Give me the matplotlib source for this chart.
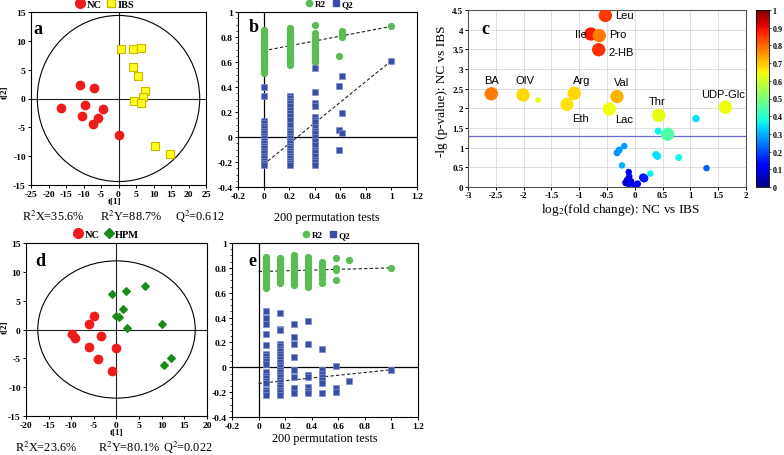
import numpy as np
import matplotlib
matplotlib.use('Agg')
import matplotlib.pyplot as plt
from matplotlib.patches import Ellipse
from matplotlib.lines import Line2D
from matplotlib.cm import ScalarMappable
from matplotlib.colors import Normalize

# ---------------- data ----------------
# panel a: PLS-DA scores NC vs IBS
a_nc_t1 = [-11.0, -7.0, -16.5, -9.5, -4.5, -10.3, -6.0, -7.2, 0.1]
a_nc_t2 = [2.4, 1.9, -1.6, -1.1, -1.9, -3.1, -3.4, -4.4, -6.4]
a_ibs_t1 = [0.8, 4.0, 6.3, 4.0, 5.6, 7.5, 7.0, 4.5, 6.5, 10.5, 14.8]
a_ibs_t2 = [8.5, 8.6, 8.7, 5.4, 3.9, 1.3, 0.3, -0.5, -0.8, -8.3, -9.7]
a_ellipse = [23.2, 14.4]   # half axes of Hotelling ellipse

# panel d: PLS-DA scores NC vs HPM
d_nc_t1 = [-5.0, -6.0, -9.9, -9.2, -3.5, -6.0, -0.2, -4.0, -1.0]
d_nc_t2 = [2.4, 0.9, -0.7, -1.5, -1.1, -3.1, -3.2, -5.1, -7.2]
d_hpm_t1 = [6.3, 2.0, -1.0, 1.4, -0.2, 0.6, 2.4, 10.0, 12.0, 10.4]
d_hpm_t2 = [7.5, 6.6, 6.2, 3.6, 2.3, 2.1, 0.3, 1.0, -5.0, -6.2]
d_ellipse = [17.4, 11.9]

# panel b: permutation test (IBS)
b_r2_cols = {
    0.005: [0.86, 0.84, 0.82, 0.80, 0.79, 0.78, 0.77, 0.76, 0.75, 0.74, 0.73, 0.72, 0.71,
            0.70, 0.69, 0.68, 0.67, 0.66, 0.65, 0.64, 0.63, 0.62, 0.61, 0.60, 0.58, 0.57,
            0.55, 0.53, 0.51],
    0.207: [0.87, 0.86, 0.85, 0.84, 0.83, 0.82, 0.81, 0.80, 0.79, 0.78, 0.77, 0.76, 0.75,
            0.74, 0.73, 0.72, 0.71, 0.70, 0.69, 0.68, 0.67, 0.66, 0.65, 0.64, 0.63, 0.62,
            0.61, 0.60, 0.59, 0.58],
    0.406: [0.90, 0.83, 0.80, 0.79, 0.78, 0.77, 0.76, 0.75, 0.74, 0.73, 0.72, 0.71, 0.70,
            0.69, 0.68, 0.67, 0.66, 0.65, 0.64, 0.63, 0.62, 0.60],
    0.59: [0.65],
    0.61: [0.85, 0.84, 0.83, 0.82, 0.80],
    1.0: [0.885],
}
b_q2_cols = {
    0.005: [0.40, 0.33, 0.13, 0.11, 0.09, 0.07, 0.05, 0.03, 0.01, -0.01, -0.03, -0.05,
            -0.07, -0.09, -0.11, -0.13, -0.15, -0.17, -0.19, -0.21, -0.22],
    0.207: [0.33, 0.31, 0.29, 0.27, 0.25, 0.22, 0.19, 0.17, 0.14, 0.10, 0.06, 0.05, 0.03,
            0.01, -0.01, -0.03, -0.05, -0.07, -0.09, -0.11, -0.13, -0.15, -0.17, -0.19,
            -0.21, -0.22],
    0.406: [0.55, 0.36, 0.27, 0.25, 0.16, 0.14, 0.12, 0.08, 0.05, 0.03, 0.0, -0.03, -0.06,
            -0.10, -0.12, -0.15, -0.18, -0.20, -0.22],
    0.59: [0.41, 0.06, -0.10],
    0.615: [0.49, 0.19, 0.03],
    1.0: [0.61],
}
b_r2_line = [0.69, 0.885]   # intercept at x=0, value at x=1
b_q2_line = [-0.22, 0.61]

# panel e: permutation test (HPM)
e_r2_cols = {
    0.059: [0.89, 0.88, 0.87, 0.86, 0.85, 0.84, 0.83, 0.82, 0.81, 0.80, 0.79, 0.78, 0.77,
            0.76, 0.75, 0.74, 0.73, 0.72, 0.71, 0.70, 0.69, 0.68, 0.67, 0.66, 0.65, 0.64],
    0.16: [0.88, 0.87, 0.86, 0.85, 0.84, 0.83, 0.82, 0.81, 0.80, 0.79, 0.78, 0.77, 0.76,
           0.75, 0.74, 0.73, 0.72, 0.71, 0.70, 0.69, 0.68],
    0.265: [0.90, 0.88, 0.86, 0.84, 0.83, 0.82, 0.81, 0.80, 0.79, 0.78, 0.77, 0.76, 0.75,
            0.74, 0.73, 0.72, 0.71, 0.70, 0.68, 0.66],
    0.37: [0.89, 0.86, 0.84, 0.83, 0.82, 0.81, 0.80, 0.79, 0.78, 0.77, 0.76, 0.75, 0.74,
           0.73, 0.72, 0.71, 0.70, 0.69, 0.67, 0.65],
    0.477: [0.85, 0.82, 0.80, 0.78, 0.76, 0.74, 0.71, 0.68],
    0.58: [0.88, 0.80, 0.78, 0.70],
    0.683: [0.86],
    1.0: [0.80],
}
e_q2_cols = {
    0.059: [0.45, 0.40, 0.35, 0.27, 0.18, 0.11, 0.09, 0.07, 0.05, 0.03, -0.04, -0.07,
            -0.09, -0.11, -0.13, -0.18, -0.20, -0.22],
    0.16: [0.44, 0.31, 0.30, 0.19, 0.17, 0.15, 0.13, 0.11, 0.09, 0.07, 0.04, 0.02, 0.0,
           -0.02, -0.04, -0.06, -0.08, -0.10, -0.12, -0.14, -0.16, -0.18, -0.20, -0.22],
    0.265: [0.35, 0.24, 0.19, 0.08, -0.02, -0.08, -0.17, -0.21],
    0.37: [0.37, 0.19, -0.06, -0.08, -0.16, -0.19, -0.21],
    0.477: [0.15, -0.02, -0.05, -0.08, -0.10, -0.13, -0.21],
    0.58: [0.01, -0.17, -0.20],
    0.683: [-0.11],
    1.0: [-0.02],
}
e_r2_line = [0.77, 0.80]
e_q2_line = [-0.13, -0.02]

# panel c: volcano plot
c_names = ['Leu', 'Ile', 'Pro', '2-HB', 'BA', 'OIV', '', 'Arg', 'Eth', 'Val', 'Lac', 'Thr',
           'UDP-Glc', '', '', '', '', '', '', '', '', '', '', '', '',
           '', '', '', '', '', '', '', '', '', '']
c_log2fc = [-0.53, -0.79, -0.64, -0.65, -2.58, -2.01, -1.74, -1.09, -1.22, -0.32, -0.46, 0.43,
            1.63, 1.10, 0.42, 0.59, -0.19, -0.28, -0.32, -0.23, 0.38, 0.41, 0.79, 1.29, 0.28,
            -0.11, -0.10, -0.13, -0.16, -0.11, -0.07, 0.0, 0.05, 0.15, 0.17]
c_neglogp = [4.36, 3.89, 3.85, 3.49, 2.37, 2.34, 2.21, 2.38, 2.10, 2.30, 1.98, 1.82,
             2.03, 1.74, 1.42, 1.34, 1.04, 0.94, 0.87, 0.55, 0.82, 0.78, 0.75, 0.48, 0.34,
             0.38, 0.27, 0.18, 0.11, 0.09, 0.14, 0.03, 0.08, 0.24, 0.22]
c_value = [0.85, 0.88, 0.78, 0.86, 0.78, 0.68, 0.62, 0.68, 0.67, 0.72, 0.64, 0.63,
           0.64, 0.35, 0.36, 0.45, 0.28, 0.28, 0.27, 0.30, 0.35, 0.35, 0.37, 0.22, 0.36,
           0.10, 0.10, 0.08, 0.08, 0.08, 0.10, 0.10, 0.10, 0.15, 0.15]
c_size = [92, 92, 92, 92, 92, 92, 17, 92, 92, 92, 92, 92,
          92, 28, 25, 92, 22, 25, 25, 22, 28, 28, 25, 22, 22,
          22, 22, 28, 28, 28, 25, 28, 25, 36, 36]
c_threshold = 1.30

# tick labels
a_xticks = [-25, -20, -15, -10, -5, 0, 5, 10, 15, 20, 25]
d_xticks = [-20, -15, -10, -5, 0, 5, 10, 15, 20]
ad_yticks = [-15, -10, -5, 0, 5, 10, 15]
perm_xticks = [-0.2, 0, 0.2, 0.4, 0.6, 0.8, 1, 1.2]
perm_xlabels = ['-0.2', '0', '0.2', '0.4', '0.6', '0.8', '1', '1.2']
perm_yticks = [-0.4, -0.2, 0, 0.2, 0.4, 0.6, 0.8, 1]
perm_ylabels = ['-0.4', '-0.2', '0', '0.2', '0.4', '0.6', '0.8', '1']
c_xticks = [-3, -2.5, -2, -1.5, -1, -0.5, 0, 0.5, 1, 1.5, 2]
c_xlabels = ['-3', '-2.5', '-2', '-1.5', '-1', '-0.5', '0', '0.5', '1', '1.5', '2']
c_yticks = [0, 0.5, 1, 1.5, 2, 2.5, 3, 3.5, 4, 4.5]
c_ylabels = ['0', '0.5', '1', '1.5', '2', '2.5', '3', '3.5', '4', '4.5']
cb_ticks = [0, 0.1, 0.2, 0.3, 0.4, 0.5, 0.6, 0.7, 0.8, 0.9, 1]
cb_labels = ['0', '0.1', '0.2', '0.3', '0.4', '0.5', '0.6', '0.7', '0.8', '0.9', '1']

# ---------------- style ----------------
plt.rcParams['font.family'] = ['Liberation Serif', 'DejaVu Serif']
plt.rcParams['mathtext.fontset'] = 'stix'
W, H = 784, 456
fig = plt.figure(figsize=(W / 100, H / 100), dpi=100)

RED = '#ee1d1d'
YEL = '#ffff1a'
YEL_E = '#c9b800'
DGREEN = '#1a8a1a'
LGREEN = '#5cbb55'
QBLUE = '#3a4ea6'
SANS = ['Liberation Sans', 'DejaVu Sans']


def add_ax(l, t, r, b):
    return fig.add_axes([l / W, 1 - b / H, (r - l) / W, (b - t) / H])


def ftext(x, y, s, **kw):
    return fig.text(x / W, 1 - y / H, s, **kw)


def style_ticks(ax, size=6.8):
    ax.tick_params(direction='out', length=2.5, width=0.7, labelsize=size, pad=1.2)
    for lab in ax.get_xticklabels() + ax.get_yticklabels():
        lab.set_fontweight('bold')
    for s in ax.spines.values():
        s.set_linewidth(0.8)


def score_panel(box, xticks, ell, nc_x, nc_y, g_x, g_y, gmark, gcol, gedge, gname, gms,
                leg_x, leg_dy, letter_xy):
    ax = add_ax(*box)
    ax.set_xlim(xticks[0], xticks[-1])
    ax.set_ylim(-15, 15)
    ax.set_xticks(xticks, [str(v) for v in xticks])
    ax.set_yticks(ad_yticks, [str(v) for v in ad_yticks])
    ax.axhline(0, color='#222222', lw=0.8, zorder=1)
    ax.axvline(0, color='#222222', lw=0.8, zorder=1)
    ax.add_patch(Ellipse((0, 0), 2 * ell[0], 2 * ell[1], fill=False, ec='black', lw=0.8))
    ax.plot(nc_x, nc_y, 'o', ms=6, mfc=RED, mec=RED, ls='none', zorder=3)
    ax.plot(g_x, g_y, gmark, ms=gms, mfc=gcol, mec=gedge, mew=0.8, ls='none', zorder=3)
    style_ticks(ax)
    handles = [Line2D([], [], marker='o', ls='none', ms=7, mfc=RED, mec=RED),
               Line2D([], [], marker=gmark, ls='none', ms=gms + 0.5, mfc=gcol, mec=gedge)]
    ax.legend(handles, ['NC', gname], loc='center', bbox_to_anchor=(leg_x, 1 + leg_dy),
              ncol=2, frameon=False, handletextpad=0.0, columnspacing=0.3,
              borderaxespad=0, handlelength=1.2,
              prop={'weight': 'bold', 'size': 7.5})
    ftext(letter_xy[0], letter_xy[1], letter_xy[2], fontsize=13, fontweight='bold',
          ha='left', va='center')
    return ax


def perm_panel(box, r2_cols, q2_cols, r2_line, q2_line, leg_x, leg_dy, letter_xy):
    ax = add_ax(*box)
    ax.set_xlim(-0.2, 1.2)
    ax.set_ylim(-0.4, 1.0)
    ax.set_xticks(perm_xticks, perm_xlabels)
    ax.set_yticks(perm_yticks, perm_ylabels)
    ax.set_yticks(np.arange(-0.4, 1.0001, 0.05), minor=True)
    ax.tick_params(which='minor', direction='out', length=1.5, width=0.5)
    ax.axhline(0, color='black', lw=0.9, zorder=1)
    ax.axvline(0, color='black', lw=0.9, zorder=1)
    rx, ry = [], []
    for k, v in r2_cols.items():
        rx += [k] * len(v)
        ry += v
    qx, qy = [], []
    for k, v in q2_cols.items():
        qx += [k] * len(v)
        qy += v
    ax.plot([0, 1], r2_line, ls=(0, (3, 2)), color='#222222', lw=0.8, zorder=2)
    ax.plot([0, 1], q2_line, ls=(0, (3, 2)), color='#222222', lw=0.8, zorder=2)
    ax.plot(rx, ry, 'o', ms=4.2, mfc=LGREEN, mec=LGREEN, ls='none', zorder=3)
    ax.plot(qx, qy, 's', ms=4.0, mfc=QBLUE, mec='#7f8fd0', mew=0.5, ls='none', zorder=3)
    style_ticks(ax)
    handles = [Line2D([], [], marker='o', ls='none', ms=4.5, mfc=LGREEN, mec=LGREEN),
               Line2D([], [], marker='s', ls='none', ms=4.5, mfc=QBLUE, mec=QBLUE)]
    ax.legend(handles, ['R2', 'Q2'], loc='center', bbox_to_anchor=(leg_x, 1 + leg_dy),
              ncol=2, frameon=False, handletextpad=0.1, columnspacing=0.6,
              borderaxespad=0, handlelength=1.0,
              prop={'weight': 'bold', 'size': 6.5})
    ftext(letter_xy[0], letter_xy[1], letter_xy[2], fontsize=13, fontweight='bold',
          ha='left', va='center')
    return ax


# ---------------- panel a ----------------
score_panel((31, 13, 206, 186), a_xticks, a_ellipse, a_nc_t1, a_nc_t2, a_ibs_t1, a_ibs_t2,
            's', YEL, YEL_E, 'IBS', 5.5, 0.417, 8 / 173, (33, 29, 'a'))
ftext(115, 202, 't[1]', fontsize=6.5, fontweight='bold', ha='center', va='center')
ftext(5, 92, 't[2]', fontsize=6.5, fontweight='bold', ha='center', va='center', rotation=90)
ftext(22, 221, 'R$^2$X=35.6%', fontsize=8.8, ha='left', va='baseline')
ftext(100, 221, 'R$^2$Y=88.7%', fontsize=8.8, ha='left', va='baseline')
ftext(175, 221, 'Q$^2$=0.612', fontsize=8.8, ha='left', va='baseline')

# ---------------- panel d ----------------
score_panel((26, 244, 207, 417), d_xticks, d_ellipse, d_nc_t1, d_nc_t2, d_hpm_t1, d_hpm_t2,
            'D', DGREEN, DGREEN, 'HPM', 4.2, 0.44, 9 / 173, (35, 262, 'd'))
ftext(117, 433, 't[1]', fontsize=6.5, fontweight='bold', ha='center', va='center')
ftext(5, 327, 't[2]', fontsize=6.5, fontweight='bold', ha='center', va='center', rotation=90)
ftext(15, 452, 'R$^2$X=23.6%', fontsize=8.8, ha='left', va='baseline')
ftext(98, 452, 'R$^2$Y=80.1%', fontsize=8.8, ha='left', va='baseline')
ftext(163, 452, 'Q$^2$=0.022', fontsize=8.8, ha='left', va='baseline')

# ---------------- panel b / e ----------------
perm_panel((238, 13, 417, 188), b_r2_cols, b_q2_cols, b_r2_line, b_q2_line,
           0.508, 8 / 175, (249, 28, 'b'))
ftext(327, 221, '200 permutation tests', fontsize=8.8, ha='center', va='baseline')
perm_panel((232, 244, 418, 418), e_r2_cols, e_q2_cols, e_r2_line, e_q2_line,
           0.505, 8.3 / 174, (248, 262, 'e'))
ftext(325, 442, '200 permutation tests', fontsize=8.8, ha='center', va='baseline')

# ---------------- panel c ----------------
axc = add_ax(468, 11, 746, 188)
axc.set_xlim(-3, 2)
axc.set_ylim(0, 4.5)
axc.set_xticks(c_xticks, c_xlabels)
axc.set_yticks(c_yticks, c_ylabels)
axc.grid(True, color='#d9d9d9', lw=0.6, zorder=0)
axc.set_axisbelow(True)
axc.axhline(c_threshold, color='#6a6ad6', lw=0.9, zorder=1)
axc.scatter(c_log2fc, c_neglogp, c=c_value, s=c_size, cmap='jet', vmin=0, vmax=1,
            linewidths=0, zorder=3)
style_ticks(axc, 6.5)
axc.tick_params(length=2)
for s in axc.spines.values():
    s.set_color('#555555')

lab_pos = {'Leu': (-0.36, 4.37, 'left'), 'Ile': (-0.87, 3.90, 'right'),
           'Pro': (-0.47, 3.90, 'left'), '2-HB': (-0.47, 3.43, 'left'),
           'BA': (-2.58, 2.73, 'center'), 'OIV': (-1.97, 2.73, 'center'),
           'Arg': (-0.95, 2.72, 'center'), 'Eth': (-0.98, 1.76, 'center'),
           'Val': (-0.23, 2.67, 'center'), 'Lac': (-0.20, 1.72, 'center'),
           'Thr': (0.40, 2.19, 'center'), 'UDP-Glc': (1.59, 2.36, 'center')}
for name in c_names:
    if name:
        x, y, ha = lab_pos[name]
        axc.text(x, y, name, family=SANS, fontsize=8, ha=ha, va='center', zorder=4)
ftext(481, 30, 'c', fontsize=13, fontweight='bold', ha='left', va='center')
ftext(620, 213, 'log$_2$(fold change): NC vs IBS', fontsize=9.5, ha='center', va='baseline')
ftext(442, 91, '-lg (p-value): NC vs IBS', fontsize=9.5, ha='center', va='center',
      rotation=90)

cax = add_ax(756, 11, 769, 188)
cb = fig.colorbar(ScalarMappable(norm=Normalize(0, 1), cmap='jet'), cax=cax)
cb.set_ticks(cb_ticks)
cb.set_ticklabels(cb_labels)
cax.tick_params(labelsize=5.8, length=1.5, width=0.5, pad=1.2)
for lab in cax.get_yticklabels():
    lab.set_fontweight('bold')
cb.outline.set_linewidth(0.6)

fig.savefig('out.png', dpi=100)
